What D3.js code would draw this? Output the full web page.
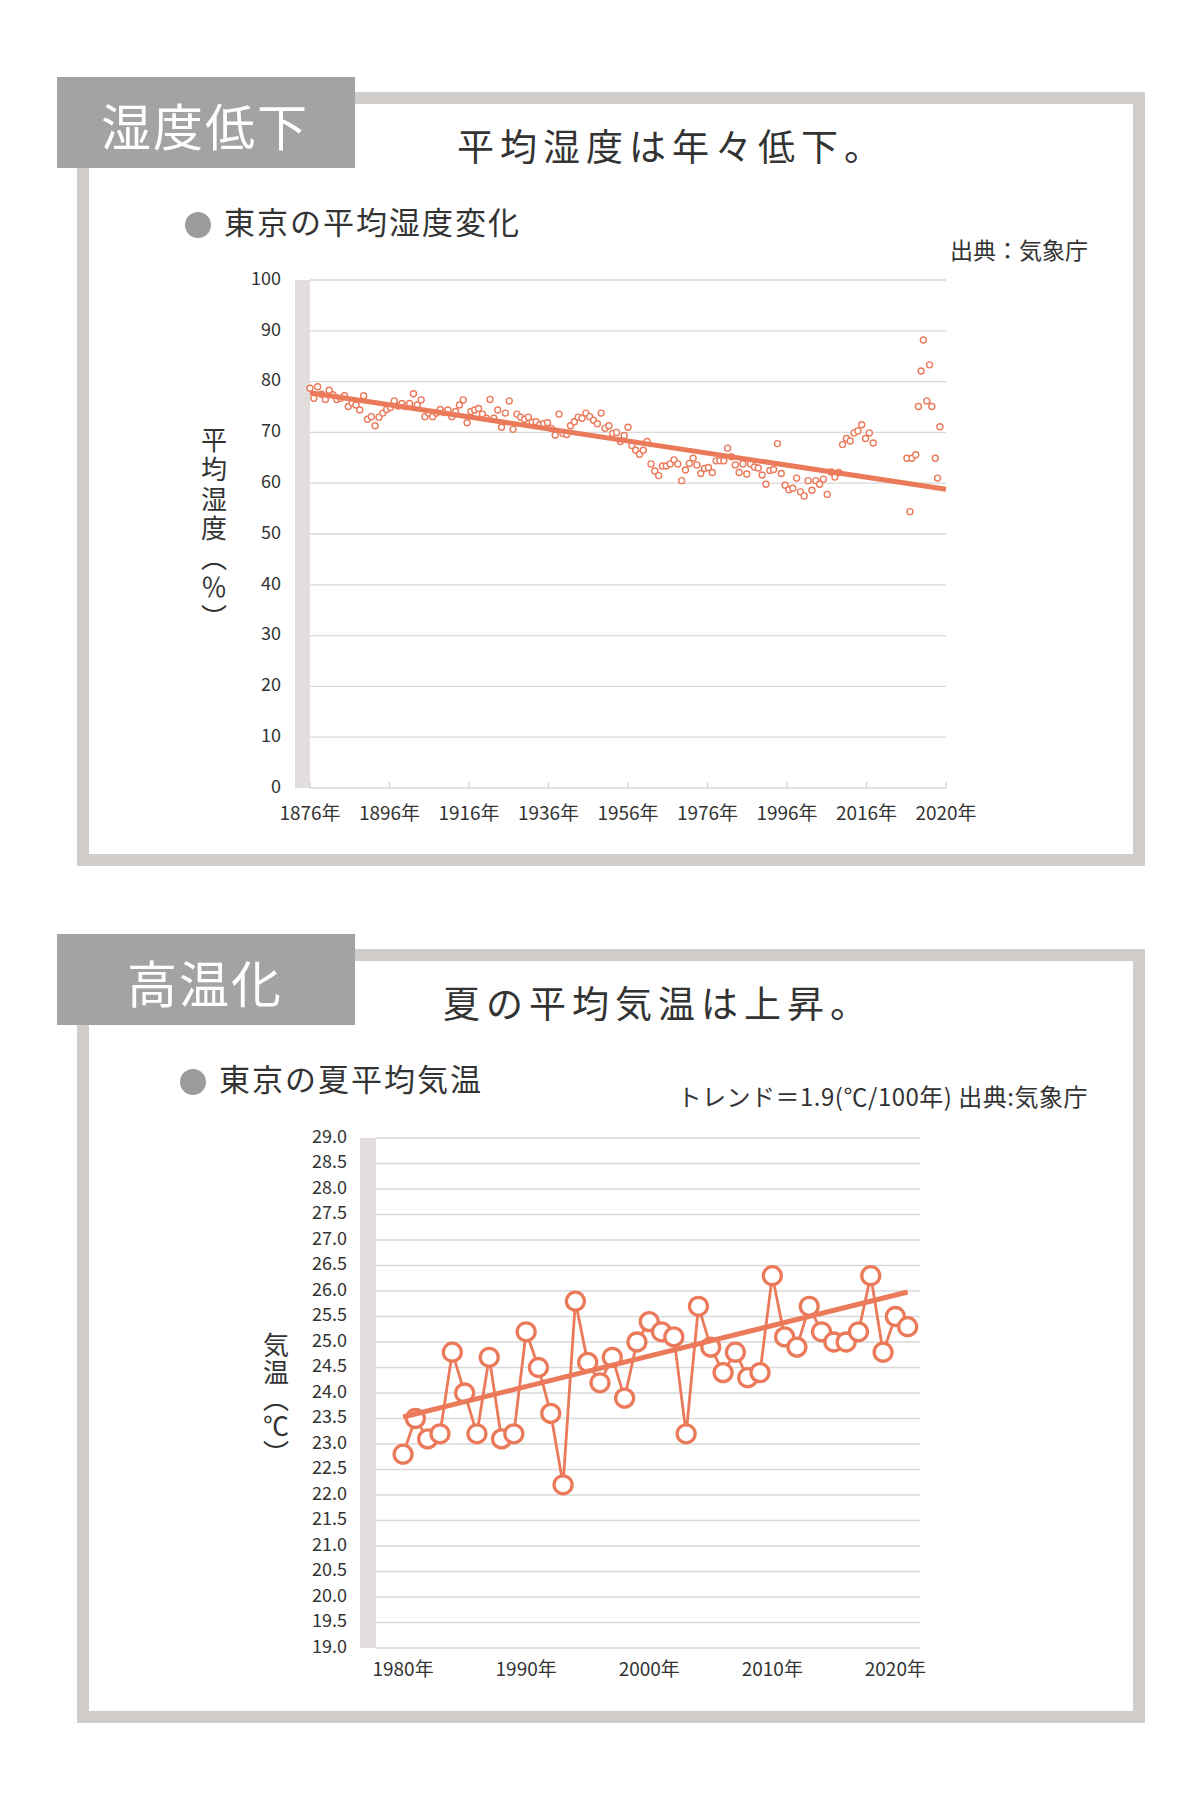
<!DOCTYPE html>
<html>
<head>
<meta charset="utf-8">
<script src="https://cdn.jsdelivr.net/npm/d3@7"></script>
<style>
  body { margin: 0; background: #fff; }
  svg { display: block; font-family: "Noto Sans CJK JP", "Noto Sans", sans-serif; }
</style>
</head>
<body>
<div id="chart"></div>
<script>
// Tokyo mean humidity (%), one value per category
const humidity = [
  78.7, 76.7, 79.0, 77.5, 76.5, 78.3, 77.4, 76.5, 76.7, 77.2,
  75.1, 75.8, 75.4, 74.4, 77.2, 72.6, 73.1, 71.3, 73.0, 73.8,
  74.5, 74.9, 76.2, 75.2, 75.7, 75.1, 75.7, 77.6, 75.4, 76.4,
  73.1, 73.8, 73.1, 73.8, 74.5, 73.9, 74.4, 73.1, 74.1, 75.4,
  76.4, 71.9, 74.1, 74.4, 74.7, 73.6, 72.8, 76.5, 72.8, 74.4,
  71.0, 73.8, 76.2, 70.6, 73.6, 73.0, 72.6, 73.0, 72.0, 72.1,
  71.5, 71.7, 71.9, 70.8, 69.5, 73.6, 69.8, 69.6, 71.3, 72.1,
  73.0, 72.8, 73.8, 73.1, 72.4, 71.7, 73.8, 70.8, 71.3, 69.8,
  70.0, 68.2, 69.4, 71.0, 67.4, 66.5, 65.7, 66.5, 68.2, 63.8,
  62.4, 61.5, 63.4, 63.4, 63.8, 64.6, 63.8, 60.5, 62.6, 63.9,
  64.9, 63.6, 61.9, 62.9, 63.1, 62.1, 64.4, 64.4, 64.4, 66.9,
  65.2, 63.6, 62.1, 63.8, 61.8, 63.8, 63.2, 63.0, 61.6, 59.8,
  62.5, 62.7, 67.8, 61.9, 59.6, 58.7, 59.0, 61.0, 58.3, 57.5,
  60.5, 58.6, 60.5, 59.8, 60.8, 57.8, 62.2, 61.2, 62.1, 67.6,
  68.8, 68.3, 69.9, 70.3, 71.5, 68.8, 69.9, 67.9
]
// the loose group of points at the right end of the humidity chart
const humidityTail = [64.9, 54.4, 64.9, 65.6, 75.1, 82.1, 88.2, 76.2, 83.3, 75.1, 64.9, 61.0, 71.1]
const humidityTailPos = [155.8, 156.6, 157.1, 158.1, 158.8, 159.5, 160.1, 161.0, 161.7, 162.3, 163.2, 163.8, 164.4]
const humidityTrend = [77.8, 58.8]
const humidityXLabels = ['1876年', '1896年', '1916年', '1936年', '1956年', '1976年', '1996年', '2016年', '2020年']
const humidityYTicks = [0, 10, 20, 30, 40, 50, 60, 70, 80, 90, 100]

// Tokyo summer mean temperature (°C)
const tempYears = d3.range(1980, 2022)
const summerTemp = [
  22.8, 23.5, 23.1, 23.2, 24.8, 24.0, 23.2, 24.7, 23.1, 23.2,
  25.2, 24.5, 23.6, 22.2, 25.8, 24.6, 24.2, 24.7, 23.9, 25.0,
  25.4, 25.2, 25.1, 23.2, 25.7, 24.9, 24.4, 24.8, 24.3, 24.4,
  26.3, 25.1, 24.9, 25.7, 25.2, 25.0, 25.0, 25.2, 26.3, 24.8,
  25.5, 25.3
]
const tempTrend = [23.53, 25.98]
const tempXTicks = [1980, 1990, 2000, 2010, 2020]
const tempYTicks = d3.range(19, 29.01, 0.5)

const ORANGE = '#EB7A5B'
const TEXT = '#333'
const GRID = '#d9d9d9'

const svg = d3.select('#chart').append('svg')
  .attr('width', 1200)
  .attr('height', 1800)

function drawPanel(offsetY, tab, title, titleX, subtitle, dotX) {
  const g = svg.append('g').attr('transform', `translate(0,${offsetY})`)

  // light frame
  g.append('rect')
    .attr('x', 83).attr('y', 98)
    .attr('width', 1056).attr('height', 762)
    .attr('fill', 'none')
    .attr('stroke', '#d0cdcb')
    .attr('stroke-width', 12)

  // tab
  g.append('rect')
    .attr('x', 57).attr('y', 77)
    .attr('width', 298).attr('height', 91)
    .attr('fill', '#a3a3a3')
  g.append('text')
    .attr('x', 205).attr('y', 132)
    .attr('text-anchor', 'middle')
    .attr('dominant-baseline', 'middle')
    .style('font-size', '50px')
    .style('letter-spacing', '2px')
    .style('fill', '#fff')
    .text(tab)

  g.append('text')
    .attr('x', titleX).attr('y', 151)
    .attr('dominant-baseline', 'middle')
    .style('font-size', '37px')
    .style('letter-spacing', '6px')
    .style('fill', TEXT)
    .text(title)

  g.append('circle')
    .attr('cx', dotX).attr('cy', 225)
    .attr('r', 13)
    .attr('fill', '#9b9b9b')
  g.append('text')
    .attr('x', dotX + 26).attr('y', 226)
    .attr('dominant-baseline', 'middle')
    .style('font-size', '31px')
    .style('letter-spacing', '2px')
    .style('fill', TEXT)
    .text(subtitle)

  return g
}

function verticalTitle(x, y, label, spacing) {
  svg.append('text')
    .attr('x', x).attr('y', y)
    .attr('text-anchor', 'middle')
    .style('writing-mode', 'vertical-rl')
    .style('text-orientation', 'mixed')
    .style('font-size', '26px')
    .style('letter-spacing', spacing + 'px')
    .style('fill', TEXT)
    .text(label)
}

// ---------- humidity chart ----------
drawPanel(0, '湿度低下', '平均湿度は年々低下。', 457, '東京の平均湿度変化', 198)

svg.append('text')
  .attr('x', 1088).attr('y', 253)
  .attr('text-anchor', 'end')
  .attr('dominant-baseline', 'middle')
  .style('font-size', '23px')
  .style('fill', TEXT)
  .text('出典：気象庁')

const hx = d3.scaleLinear().domain([0, 166]).range([310, 946])
const hy = d3.scaleLinear().domain([0, 100]).range([788, 280])

svg.append('rect')
  .attr('x', 295).attr('y', hy(100))
  .attr('width', 15).attr('height', hy(0) - hy(100))
  .attr('fill', '#e1dedd')

svg.append('g')
  .selectAll('line')
  .data(humidityYTicks)
  .join('line')
  .attr('x1', hx(0)).attr('x2', hx(166))
  .attr('y1', d => hy(d)).attr('y2', d => hy(d))
  .attr('stroke', GRID)
  .attr('stroke-width', 1.3)

svg.append('g')
  .selectAll('text')
  .data(humidityYTicks)
  .join('text')
  .attr('x', 281)
  .attr('y', d => hy(d))
  .attr('text-anchor', 'end')
  .attr('dominant-baseline', 'middle')
  .style('font-size', '18px')
  .style('fill', TEXT)
  .text(d => d)

// category labels spread evenly along the axis
const labelPos = humidityXLabels.map((d, i) => i * 166 / (humidityXLabels.length - 1))
svg.append('g')
  .selectAll('line')
  .data(labelPos)
  .join('line')
  .attr('x1', d => hx(d)).attr('x2', d => hx(d))
  .attr('y1', hy(0) - 6).attr('y2', hy(0))
  .attr('stroke', '#d0d0d0')
  .attr('stroke-width', 1.2)
svg.append('g')
  .selectAll('text')
  .data(humidityXLabels)
  .join('text')
  .attr('x', (d, i) => hx(labelPos[i]))
  .attr('y', 815)
  .attr('text-anchor', 'middle')
  .attr('dominant-baseline', 'middle')
  .style('font-size', '19px')
  .style('fill', TEXT)
  .text(d => d)

verticalTitle(214, 530, '平均湿度（％）', 3.5)

const humidityPoints = humidity.map((v, i) => ({x: i, v}))
  .concat(humidityTail.map((v, i) => ({x: humidityTailPos[i], v})))

svg.append('g')
  .selectAll('circle')
  .data(humidityPoints)
  .join('circle')
  .attr('cx', d => hx(d.x))
  .attr('cy', d => hy(d.v))
  .attr('r', 3)
  .attr('fill', '#fff')
  .attr('stroke', ORANGE)
  .attr('stroke-width', 1.4)

svg.append('line')
  .attr('x1', hx(0)).attr('y1', hy(humidityTrend[0]))
  .attr('x2', hx(166)).attr('y2', hy(humidityTrend[1]))
  .attr('stroke', ORANGE)
  .attr('stroke-width', 5)

// ---------- temperature chart ----------
drawPanel(857, '高温化', '夏の平均気温は上昇。', 443, '東京の夏平均気温', 193)

svg.append('text')
  .attr('x', 1088).attr('y', 1099)
  .attr('text-anchor', 'end')
  .attr('dominant-baseline', 'middle')
  .style('font-size', '24px')
  .style('letter-spacing', '0.5px')
  .style('fill', TEXT)
  .text('トレンド＝1.9(℃/100年) 出典:気象庁')

const tx = d3.scaleLinear().domain([1977.8, 2022]).range([376, 920])
const ty = d3.scaleLinear().domain([19, 29]).range([1648, 1138])

svg.append('rect')
  .attr('x', 360).attr('y', ty(29))
  .attr('width', 16).attr('height', ty(19) - ty(29))
  .attr('fill', '#e1dedd')

svg.append('g')
  .selectAll('line')
  .data(tempYTicks)
  .join('line')
  .attr('x1', tx(1977.8)).attr('x2', tx(2022))
  .attr('y1', d => ty(d)).attr('y2', d => ty(d))
  .attr('stroke', GRID)
  .attr('stroke-width', 1.3)

svg.append('g')
  .selectAll('text')
  .data(tempYTicks)
  .join('text')
  .attr('x', 347)
  .attr('y', d => ty(d))
  .attr('text-anchor', 'end')
  .attr('dominant-baseline', 'middle')
  .style('font-size', '18px')
  .style('fill', TEXT)
  .text(d => d.toFixed(1))

svg.append('g')
  .selectAll('text')
  .data(tempXTicks)
  .join('text')
  .attr('x', d => tx(d))
  .attr('y', 1671)
  .attr('text-anchor', 'middle')
  .attr('dominant-baseline', 'middle')
  .style('font-size', '19px')
  .style('fill', TEXT)
  .text(d => d + '年')

verticalTitle(276, 1400, '気温（℃）', 1)

const tempData = summerTemp.map((v, i) => ({year: tempYears[i], v}))

svg.append('path')
  .datum(tempData)
  .attr('d', d3.line().x(d => tx(d.year)).y(d => ty(d.v)))
  .attr('fill', 'none')
  .attr('stroke', ORANGE)
  .attr('stroke-width', 2.8)

svg.append('g')
  .selectAll('circle')
  .data(tempData)
  .join('circle')
  .attr('cx', d => tx(d.year))
  .attr('cy', d => ty(d.v))
  .attr('r', 9)
  .attr('fill', '#fff')
  .attr('stroke', ORANGE)
  .attr('stroke-width', 3.3)

svg.append('line')
  .attr('x1', tx(1980)).attr('y1', ty(tempTrend[0]))
  .attr('x2', tx(2021)).attr('y2', ty(tempTrend[1]))
  .attr('stroke', ORANGE)
  .attr('stroke-width', 5)
</script>
</body>
</html>
